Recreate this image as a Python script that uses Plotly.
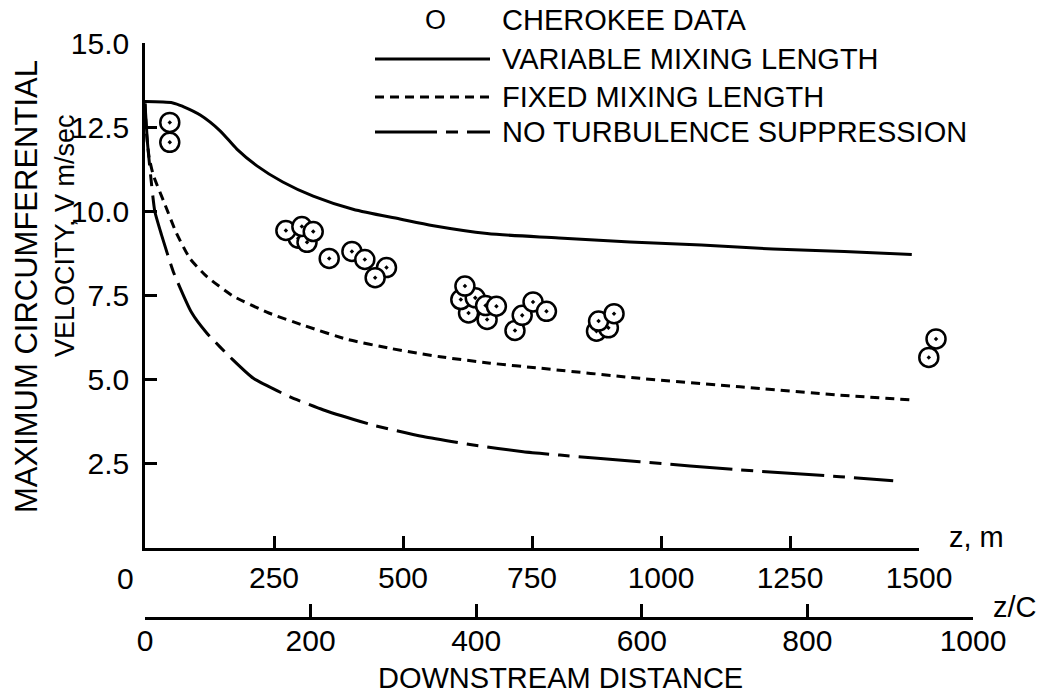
import plotly.graph_objects as go

# ---------------- data ----------------
z_variable = [0, 54, 74, 107, 145, 178, 217, 267, 326, 403, 494, 559, 663, 802, 940, 1078, 1217, 1355, 1486]
v_variable = [13.26, 13.22, 13.11, 12.86, 12.40, 11.85, 11.35, 10.87, 10.45, 10.06, 9.77, 9.57, 9.34, 9.21, 9.09, 9.00, 8.88, 8.81, 8.72]

z_fixed = [0, 3, 8, 16, 39, 61, 87, 120, 171, 240, 310, 391, 475, 572, 669, 766, 959, 1153, 1347, 1483]
v_fixed = [13.2, 12.3, 11.6, 11.08, 10.19, 9.35, 8.6, 8.06, 7.48, 6.98, 6.6, 6.2, 5.93, 5.68, 5.49, 5.34, 5.04, 4.79, 4.54, 4.40]

z_noturb = [0, 5, 10, 19, 32, 55, 90, 120, 171, 210, 281, 346, 442, 539, 636, 733, 804, 959, 1153, 1347, 1450]
v_noturb = [13.2, 12.0, 11.2, 10.0, 9.3, 8.2, 7.0, 6.38, 5.58, 5.04, 4.49, 4.10, 3.65, 3.31, 3.06, 2.86, 2.76, 2.56, 2.32, 2.12, 2.0]

z_obs = [48, 48, 297, 314, 273, 304, 326, 357, 401, 426, 468, 446,
         627, 663, 612, 640, 660, 681, 620, 717, 731, 752, 778,
         875, 898, 879, 909, 1519, 1533]
v_obs = [12.64, 12.05, 9.20, 9.08, 9.43, 9.55, 9.40, 8.60, 8.81, 8.57, 8.33, 8.03,
         6.98, 6.79, 7.38, 7.43, 7.20, 7.18, 7.78, 6.46, 6.91, 7.31, 7.03,
         6.44, 6.54, 6.74, 6.96, 5.66, 6.21]

x_ticks_m = [250, 500, 750, 1000, 1250, 1500]
x_ticks_zc = [0, 200, 400, 600, 800, 1000]
y_ticks = [2.5, 5.0, 7.5, 10.0, 12.5, 15.0]
y_ticktext = ["2.5", "5.0", "7.5", "10.0", "12.5", "15.0"]

legend_labels = ["CHEROKEE DATA", "VARIABLE MIXING LENGTH", "FIXED MIXING LENGTH", "NO TURBULENCE SUPPRESSION"]

# ---------------- layout helpers ----------------
FIG_W, FIG_H = 1052, 695
L, R, T, B = 145, 79, 43, 78
PW = FIG_W - L - R
PH = FIG_H - T - B
X_END = 919          # pixel where z = 1500 m
Y_ZERO = 548         # pixel where V = 0


def px(x):
    return (x - L) / PW


def py(y):
    return (FIG_H - B - y) / PH


Z_MAX = 1500
Z_MAX_WIDE = Z_MAX * PW / (X_END - L)   # same scale, spanning the full plot width

FONT = "Liberation Sans, Arial, sans-serif"
BLACK = "#000000"
LW = 3
DASH_FIXED = "9px,6px"
DASH_NOTURB = "62px,9px,12px,9px"

fig = go.Figure()

fig.add_trace(go.Scatter(x=z_noturb, y=v_noturb, mode="lines",
                         line=dict(color=BLACK, width=LW, dash=DASH_NOTURB, shape="spline", smoothing=0.5),
                         showlegend=False, hoverinfo="skip"))
fig.add_trace(go.Scatter(x=z_fixed, y=v_fixed, mode="lines",
                         line=dict(color=BLACK, width=LW, dash=DASH_FIXED, shape="spline", smoothing=0.5),
                         showlegend=False, hoverinfo="skip"))
fig.add_trace(go.Scatter(x=z_variable, y=v_variable, mode="lines",
                         line=dict(color=BLACK, width=LW, shape="spline", smoothing=0.8),
                         showlegend=False, hoverinfo="skip"))
# observations on a hidden axis with the same scale but a wider extent (points beyond 1500 m)
fig.add_trace(go.Scatter(x=z_obs, y=v_obs, mode="markers", cliponaxis=False,
                         xaxis="x3", yaxis="y3",
                         marker=dict(symbol="circle-dot", size=19, color="white",
                                     line=dict(color=BLACK, width=2.5)),
                         showlegend=False, hoverinfo="skip"))
# placeholder for the z/C axis subplot
fig.add_trace(go.Scatter(x=[None], y=[None], xaxis="x2", yaxis="y2",
                         showlegend=False, hoverinfo="skip"))

axis_common = dict(showgrid=False, zeroline=False, showline=True, linecolor=BLACK,
                   linewidth=2.5, ticks="inside", tickcolor=BLACK, tickwidth=2.5,
                   tickfont=dict(family=FONT, size=30, color=BLACK), fixedrange=True)

fig.update_layout(
    width=FIG_W, height=FIG_H,
    margin=dict(l=L, r=R, t=T, b=B, pad=0),
    paper_bgcolor="white", plot_bgcolor="rgba(0,0,0,0)",
    font=dict(family=FONT, color=BLACK, size=29),
    xaxis=dict(range=[0, Z_MAX], domain=[0, px(X_END)], anchor="y",
               tickmode="array", tickvals=x_ticks_m, ticktext=[str(v) for v in x_ticks_m],
               ticklen=12, ticklabelstandoff=1, **axis_common),
    yaxis=dict(range=[0, 15], domain=[py(Y_ZERO), 1], anchor="x",
               tickmode="array", tickvals=y_ticks, ticktext=y_ticktext,
               ticklen=12, ticklabelstandoff=7, **axis_common),
    xaxis2=dict(range=[0, 1000], domain=[0, 1], anchor="y2",
                tickmode="array", tickvals=x_ticks_zc, ticktext=[str(v) for v in x_ticks_zc],
                ticklen=13, ticklabelstandoff=-5, **axis_common),
    yaxis2=dict(range=[0, 1], domain=[0, 0.001], anchor="x2", visible=False, fixedrange=True),
    xaxis3=dict(range=[0, Z_MAX_WIDE], domain=[0, 1], anchor="y3", visible=False, fixedrange=True),
    yaxis3=dict(range=[0, 15], domain=[py(Y_ZERO), 1], anchor="x3", visible=False, fixedrange=True),
)

ann = []
def text(t, x, y, size=29, xanchor="center", angle=0):
    ann.append(dict(text=t, x=px(x), y=py(y), xref="paper", yref="paper",
                    xanchor=xanchor, yanchor="middle", showarrow=False, textangle=angle,
                    font=dict(family=FONT, size=size, color=BLACK)))

text("MAXIMUM CIRCUMFERENTIAL", 26, 287, size=31, angle=-90)
text("VELOCITY, V m/sec", 65, 236, size=27, angle=-90)
text("0", 125, 578, size=30)
text("z, m", 947, 537, xanchor="left")
text("z/C", 991, 607, xanchor="left")
text("DOWNSTREAM DISTANCE", 560, 678)

rows = [20, 59, 97, 132]
for lab, ry in zip(legend_labels, rows):
    text(lab, 500, ry, xanchor="left")
text("O", 435, rows[0], size=27)

shapes = []
for ry, dash in zip(rows[1:], ["solid", DASH_FIXED, DASH_NOTURB]):
    shapes.append(dict(type="line", xref="paper", yref="paper",
                       x0=px(375), x1=px(490), y0=py(ry), y1=py(ry),
                       line=dict(color=BLACK, width=LW, dash=dash)))

fig.update_layout(annotations=ann, shapes=shapes)

fig.write_html("out.html")
